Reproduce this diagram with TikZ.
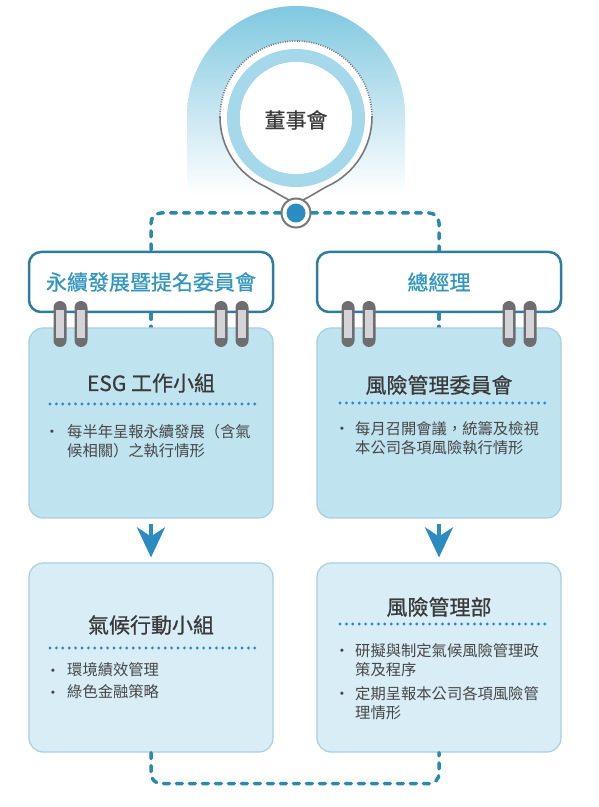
\documentclass[tikz,border=0pt]{standalone}
\usepackage{fontspec}
\setmainfont{Noto Sans CJK TC}
\newfontfamily\titlefont{Noto Sans CJK TC}[FakeBold=0.7]
\usetikzlibrary{arrows.meta}
\pgfdeclareradialshading{discshade}{\pgfpoint{0bp}{0bp}}{color(0bp)=(white); color(38bp)=(white); color(50bp)=(black!10)}

\begin{document}
\begin{tikzpicture}[x=1pt,y=1pt,
    dashline/.style={line width=3.5pt, color=dashblue, dash pattern=on 6pt off 7pt, line cap=round},
    topbox/.style={draw=boxline, line width=2.5pt, fill=white, rounded corners=12pt, minimum width=244pt, minimum height=60pt, text=toptext, font=\titlefont\fontsize{21}{25}\selectfont},
    card/.style={draw=cardedge, line width=1.2pt, rounded corners=14pt, minimum width=244pt, minimum height=190pt},
    cardtitle/.style={text=txttitle, font=\titlefont\fontsize{21}{25}\selectfont, inner sep=0pt},
    bodytext/.style={text=txtbody, font=\fontsize{15.3}{19.5}\selectfont, inner sep=0pt, align=left},
    bullet/.style={text=txtbody, font=\fontsize{15.3}{19.5}\selectfont, inner sep=0pt, yshift=-3pt},
    dotrule/.style={line width=3.2pt, color=hubblue, dash pattern=on 0pt off 6.4pt, line cap=round},
    flowarrow/.style={line width=4pt, color=hubblue, -{Stealth[length=30pt,width=28pt,inset=9pt]}, shorten <=5pt, shorten >=5pt}
]
        % Define colors
        \definecolor{archblue}{RGB}{128, 200, 224}
        \definecolor{ringblue}{RGB}{165, 216, 234}
        \definecolor{hubblue}{RGB}{42, 140, 192}
        \definecolor{dashblue}{RGB}{43, 136, 176}
        \definecolor{boxline}{RGB}{47, 125, 156}
        \definecolor{toptext}{RGB}{49, 150, 192}
        \definecolor{cardtop}{RGB}{191, 227, 239}
        \definecolor{cardbot}{RGB}{216, 237, 246}
        \definecolor{cardedge}{RGB}{168, 208, 222}
        \definecolor{ringdark}{RGB}{110, 110, 112}
        \definecolor{ringlight}{RGB}{212, 212, 216}
        \definecolor{pingray}{RGB}{120, 120, 122}
        \definecolor{txttitle}{RGB}{58, 58, 58}
        \definecolor{txtbody}{RGB}{70, 70, 70}

        \useasboundingbox (0,0) rectangle (598,807);

        % --- BOARD (top) ---
        \shade[top color=archblue, bottom color=white] (187,612) -- (187,692) arc (180:0:109) -- (405,612) -- cycle;
        \fill[white] (296,690) circle (76);
        \fill[white] (220,690) arc (180:245:76) .. controls (272,617) and (284,609) .. (290.1,606.7)
            -- (301.9,606.7) .. controls (308,609) and (320,617) .. (328.1,621.1) arc (295:360:76) -- cycle;
        \draw[pingray, line width=1.6pt] (220,690) arc (180:245:76) .. controls (272,617) and (284,609) .. (290.1,606.7);
        \draw[pingray, line width=1.6pt] (301.9,606.7) .. controls (308,609) and (320,617) .. (328.1,621.1) arc (295:360:76);
        \draw[pingray, line width=1.6pt, dash pattern=on 1pt off 1.4pt] (372,690) arc (0:180:76);
        \fill[ringblue, even odd rule] (296,689) circle (69) (296,689) circle (56);
        \shade[shading=discshade] (296,689) circle (56);
        \node[cardtitle, text=txttitle] (board) at (296,687) {董事會};

        % hub
        \node[circle, draw=pingray, line width=2pt, fill=white, minimum size=29pt, inner sep=0pt] (hub) at (296,594) {};
        \fill[hubblue] (hub.center) circle (9.5);

        % --- TOP BOXES ---
        \node[topbox] (nomcom) at (151,525) {永續發展暨提名委員會};
        \node[topbox] (gm) at (439,525) {總經理};
        \draw[dashline, rounded corners=10pt] (hub.west) -| (nomcom.north);
        \draw[dashline, rounded corners=10pt] (hub.east) -| (gm.north);
        \draw[dashline] (nomcom.south) -- ++(0,-16);
        \draw[dashline] (gm.south) -- ++(0,-16);

        % --- CARDS ---
        \node[card, fill=cardtop] (esg) at (151,384) {};
        \node[card, fill=cardtop] (riskcom) at (439,384) {};
        \node[card, fill=cardbot, minimum height=189pt] (climate) at (151,149.5) {};
        \node[card, fill=cardbot, minimum height=189pt] (riskdept) at (439,149.5) {};

        % rings
        \foreach \bx in {151,439} \foreach \dx in {-91,-70,70,91} {
            \fill[ringdark, rounded corners=6.5pt] (\bx+\dx-6.5,460) rectangle (\bx+\dx+6.5,506);
            \fill[ringlight] (\bx+\dx-4,469) rectangle (\bx+\dx+4,497);
        }

        % ESG card
        \node[cardtitle] (esgtitle) at (151,424) {ESG 工作小組};
        \draw[dotrule] (50,403) -- (255,403);
        \node[bullet] (esgdot) at (52,376) {·};
        \node[bodytext, anchor=north west] (esgtext) at (67,383) {每半年呈報永續發展（含氣\\候相關）之執行情形};

        % risk committee card
        \node[cardtitle] (riskcomtitle) at (439,422) {風險管理委員會};
        \draw[dotrule] (340,404) -- (545,404);
        \node[bullet] (riskcomdot) at (342,379) {·};
        \node[bodytext, anchor=north west] (riskcomtext) at (355,386) {每月召開會議，統籌及檢視\\本公司各項風險執行情形};

        % climate card
        \node[cardtitle] (climatetitle) at (151,182) {氣候行動小組};
        \draw[dotrule] (50,159) -- (255,159);
        \node[bullet] (climatedota) at (53,137) {·};
        \node[bodytext, anchor=west] (climatetexta) at (67,137) {環境績效管理};
        \node[bullet] (climatedotb) at (53,115) {·};
        \node[bodytext, anchor=west] (climatetextb) at (67,115) {綠色金融策略};

        % risk department card
        \node[cardtitle] (riskdepttitle) at (439,200) {風險管理部};
        \draw[dotrule] (340,183) -- (545,183);
        \node[bullet] (riskdeptdota) at (342,157) {·};
        \node[bodytext, anchor=north west] (riskdepttexta) at (355,164) {研擬與制定氣候風險管理政\\策及程序};
        \node[bullet] (riskdeptdotb) at (342,114) {·};
        \node[bodytext, anchor=north west] (riskdepttextb) at (355,121) {定期呈報本公司各項風險管\\理情形};

        % arrows and loop
        \draw[flowarrow] (esg.south) -- (climate.north);
        \draw[flowarrow] (riskcom.south) -- (riskdept.north);
        \draw[dashline, rounded corners=10pt] (climate.south) -- ++(0,-31) -| (riskdept.south);

    \end{tikzpicture}
\end{document}
